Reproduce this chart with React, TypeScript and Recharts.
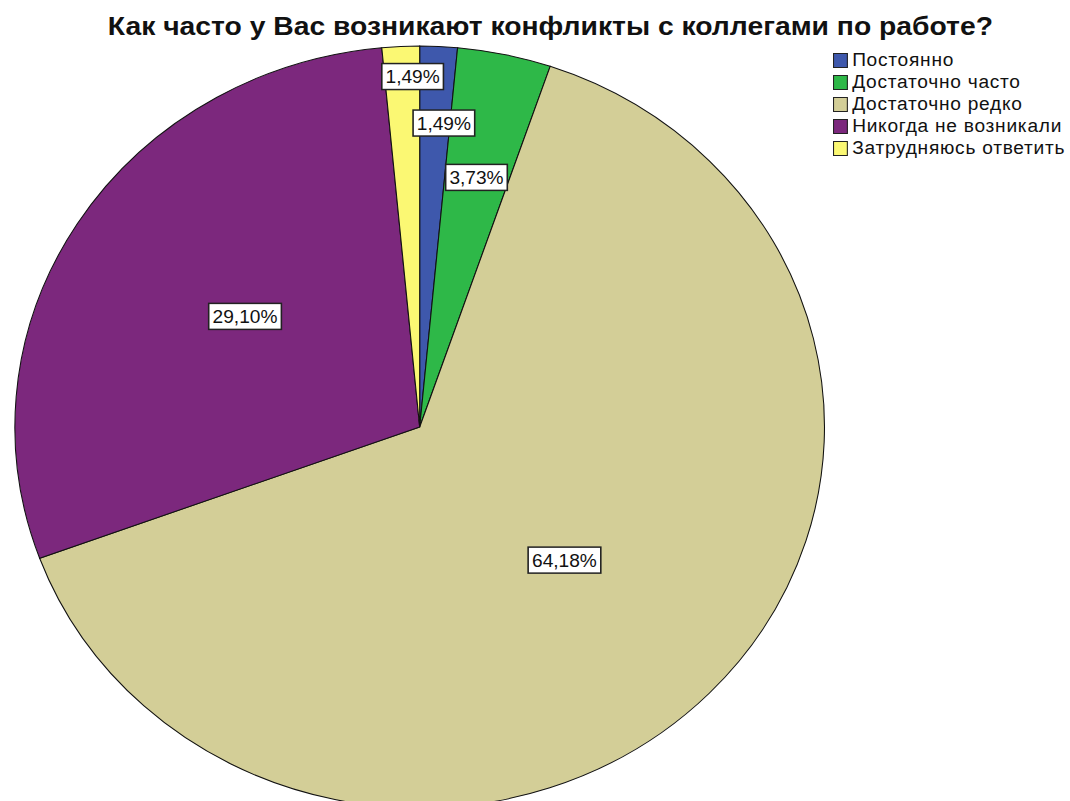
import { Legend, Pie, PieChart } from "recharts";

const categories = [
  "Постоянно",
  "Достаточно часто",
  "Достаточно редко",
  "Никогда не возникали",
  "Затрудняюсь ответить",
];
const counts = [2, 5, 86, 39, 2];
const colors = ["#3E58AC", "#2EB848", "#D3CE97", "#7C287D", "#FBF873"];
const title = "Как часто у Вас возникают конфликты с коллегами по работе?";

// label placement: fraction of radius, clockwise angle shift in degrees
const labelRadius = [0.8, 0.67, 0.5, 0.52, 0.92];
const labelShift = [1.6, 0, 0, 1.7, 1.6];

const STRETCH = 1.0625;
const FONT = "'Liberation Sans', Arial, sans-serif";
const total = counts.reduce((a, b) => a + b, 0);

const data = categories.map((name, i) => ({ name, value: counts[i], fill: colors[i] }));

function fmt(v: number) {
  return ((v / total) * 100).toFixed(2).replace(".", ",") + "%";
}

function renderLabel(props: any) {
  const { cx, cy, midAngle, outerRadius, index, value } = props;
  const ang = ((midAngle - labelShift[index]) * Math.PI) / 180;
  const r = outerRadius * labelRadius[index];
  const x = cx + r * Math.cos(ang);
  const y = cy - r * Math.sin(ang);
  const text = fmt(value);
  const w = text.length * 10.4 + 6;
  const h = 26;
  return (
    <g key={`lbl-${index}`}>
      <rect x={x - w / 2} y={y - h / 2} width={w} height={h} fill="#fff" stroke="#222" strokeWidth={1.5} />
      <text x={x} y={y + 6.5} textAnchor="middle" fontFamily={FONT} fontSize={18} fill="#111">
        {text}
      </text>
    </g>
  );
}

// legend kept in data order (recharts would sort it by name)
function renderLegend() {
  return (
    <div style={{ fontFamily: FONT, fontSize: 18, color: "#111", letterSpacing: 0.7 }}>
      {categories.map((name, i) => (
        <div key={name} style={{ display: "flex", alignItems: "center", height: 22 }}>
          <span
            style={{
              width: 14,
              height: 15,
              background: colors[i],
              border: "1.5px solid #222",
              boxSizing: "border-box",
              marginRight: 4,
            }}
          />
          <span>{name}</span>
        </div>
      ))}
    </div>
  );
}

export default function App() {
  const w = 1070 / STRETCH;
  return (
    <div style={{ position: "absolute", left: 0, top: 0, width: 1070, height: 801, overflow: "hidden", background: "#fff" }}>
      <div style={{ position: "relative", width: w, height: 801, transform: `scaleX(${STRETCH})`, transformOrigin: "0 0" }}>
        <PieChart width={w} height={801} margin={{ top: 0, right: 0, bottom: 0, left: 0 }}>
          <Pie
            data={data}
            dataKey="value"
            nameKey="name"
            cx={395}
            cy={427}
            outerRadius={381}
            startAngle={90}
            endAngle={-270}
            stroke="#111"
            strokeWidth={1}
            label={renderLabel}
            labelLine={false}
            isAnimationActive={false}
          />
          <Legend
            layout="vertical"
            verticalAlign="middle"
            align="right"
            content={renderLegend}
            wrapperStyle={{ position: "absolute", left: 784, top: 49, width: 230 }}
          />
        </PieChart>
        <svg width={w} height={50} style={{ position: "absolute", left: 0, top: 0 }}>
          <text
            x={518}
            y={35}
            textAnchor="middle"
            fontFamily={FONT}
            fontWeight="bold"
            fontSize={25}
            textLength={833}
            lengthAdjust="spacingAndGlyphs"
            fill="#111"
          >
            {title}
          </text>
        </svg>
      </div>
    </div>
  );
}
